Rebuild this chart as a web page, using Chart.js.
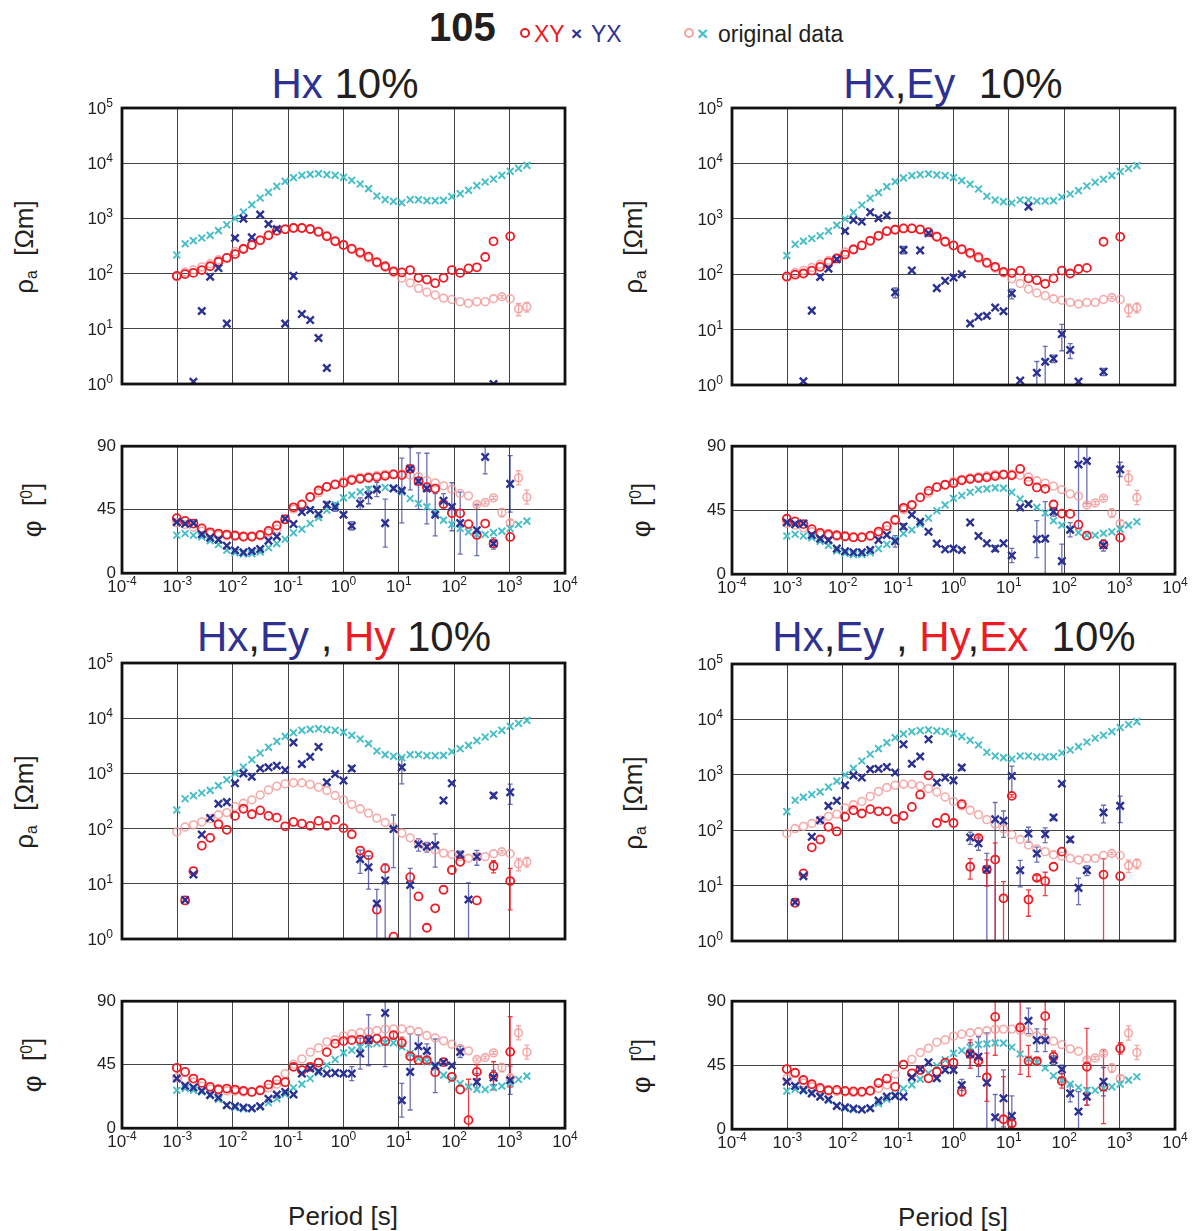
<!DOCTYPE html>
<html><head><meta charset="utf-8">
<script src="https://cdn.jsdelivr.net/npm/chart.js@4.4.0/dist/chart.umd.min.js"></script>
<style>
body{margin:0;background:#fff;width:1195px;height:1231px;position:relative;overflow:hidden;font-family:"Liberation Sans",Arial,sans-serif;color:#231f20}
.abs{position:absolute;white-space:nowrap;line-height:1}
.ttl{position:absolute;white-space:nowrap;line-height:1;font-size:42px;transform:translateX(-50%)}
.ylab{position:absolute;white-space:nowrap;line-height:1;font-size:26px;transform:translate(-50%,-50%) rotate(-90deg)}
.ylab sub{font-size:60%;vertical-align:-0.25em}
.ylab sup{font-size:60%;vertical-align:0.6em}
.b{color:#2e3192}.r{color:#ed1c24}
canvas{position:absolute}
</style></head><body>

<div class="abs" style="left:429px;top:7px;font-size:40px;font-weight:bold">105</div>
<div class="abs" style="left:520px;top:28px;width:6px;height:6px;border:2px solid #ed1c24;border-radius:50%"></div>
<div class="abs r" style="left:534px;top:23px;font-size:23px">XY</div>
<div class="abs b" style="left:571px;top:24px;font-size:19px;font-weight:bold">×</div>
<div class="abs b" style="left:591px;top:23px;font-size:23px">YX</div>
<div class="abs" style="left:684px;top:28px;width:6px;height:6px;border:2px solid #f4a3a3;border-radius:50%"></div>
<div class="abs" style="left:697px;top:24px;font-size:19px;font-weight:bold;color:#45bec8">×</div>
<div class="abs" style="left:718px;top:23px;font-size:23px">original data</div>

<div class="ttl" style="left:345px;top:63px"><span class="b">Hx</span> 10%</div>
<div class="ttl" style="left:953px;top:63px"><span class="b">Hx</span>,<span class="b">Ey</span>&nbsp; 10%</div>
<div class="ttl" style="left:344px;top:616px"><span class="b">Hx</span>,<span class="b">Ey</span> , <span class="r">Hy</span> 10%</div>
<div class="ttl" style="left:954px;top:616px"><span class="b">Hx</span>,<span class="b">Ey</span> , <span class="r">Hy</span>,<span class="r">Ex</span>&nbsp; 10%</div>

<div class="ylab" style="left:25px;top:247px">ρ<sub>a</sub>&nbsp; [Ωm]</div>
<div class="ylab" style="left:634px;top:247px">ρ<sub>a</sub>&nbsp; [Ωm]</div>
<div class="ylab" style="left:25px;top:802px">ρ<sub>a</sub>&nbsp; [Ωm]</div>
<div class="ylab" style="left:634px;top:803px">ρ<sub>a</sub>&nbsp; [Ωm]</div>
<div class="ylab" style="left:32px;top:510px">φ&nbsp; [<sup>0</sup>]</div>
<div class="ylab" style="left:641px;top:510px">φ&nbsp; [<sup>0</sup>]</div>
<div class="ylab" style="left:32px;top:1065px">φ&nbsp; [<sup>0</sup>]</div>
<div class="ylab" style="left:641px;top:1066px">φ&nbsp; [<sup>0</sup>]</div>

<div class="abs" style="left:343px;top:1203px;font-size:26px;transform:translateX(-50%)">Period [s]</div>
<div class="abs" style="left:953px;top:1204px;font-size:26px;transform:translateX(-50%)">Period [s]</div>

<canvas id="c_tl_r"></canvas><canvas id="c_tl_p"></canvas>
<canvas id="c_tr_r"></canvas><canvas id="c_tr_p"></canvas>
<canvas id="c_bl_r"></canvas><canvas id="c_bl_p"></canvas>
<canvas id="c_br_r"></canvas><canvas id="c_br_p"></canvas>

<script>
// ---------- DATA ----------
const periods = [0.000977, 0.00138, 0.00195, 0.00276, 0.00391, 0.00552, 0.00781, 0.0110, 0.0156, 0.0221, 0.0313, 0.0442, 0.0625, 0.0884, 0.125, 0.177, 0.25, 0.354, 0.5, 0.707, 1, 1.41, 2, 2.83, 4, 5.66, 8, 11.3, 16, 22.6, 32, 45.3, 64, 90.5, 128, 181, 256, 362, 512, 724, 1024, 1448, 2048];
const xTickValues = [1e-4, 1e-3, 1e-2, 1e-1, 1, 10, 100, 1000, 10000];
const rhoTickValues = [1, 10, 100, 1000, 10000, 100000];
const phiTickValues = [0, 45, 90];

// original data
const origXYRho = [87, 107, 117, 132, 151, 178, 195, 251, 288, 331, 407, 501, 589, 646, 676, 676, 631, 562, 490, 398, 331, 275, 229, 191, 155, 129, 105, 83, 68, 54, 46, 41, 36, 34, 31, 29, 31, 31, 35, 38, 35, 23, 25];
const origXYRhoErr = [0,0,0,0,0,0,0,0,0,0, 0,0,0,0,0,0,0,0,0,0, 0,0,0,0,0,0,0,0,0,0, 0,0,0,0,0,0,0,0,0,0.05, 0,0.25,0.2];
const origXYPhi = [35.7, 34.5, 32.6, 29.8, 27.9, 26.9, 26.5, 26.2, 25.7, 25.7, 26.5, 28.6, 31.2, 38.7, 45.4, 49.1, 53.9, 56.9, 61.2, 62.8, 65.4, 66.8, 67.8, 68.5, 69.2, 70.2, 70.4, 70.4, 69.4, 68.3, 65.7, 64.0, 61.9, 59.5, 56.5, 54.8, 48.7, 50.1, 53.4, 43.0, 35.7, 67.6, 53.9];
const origXYPhiErr = [0,0,0,0,0,0,0,0,0,0, 0,0,0,0,0,0,0,0,0,0, 0,0,0,0,0,0,0,0,0,0, 0,0,0,0,0,0,1,1,1,3, 2,5,5];
const origYXRho = [217, 348, 395, 442, 493, 600, 769, 1000, 1306, 1774, 2344, 2965, 3811, 4688, 5470, 6026, 6281, 6457, 6194, 6026, 5546, 4898, 4198, 3459, 2547, 2183, 2037, 1928, 2183, 2183, 2094, 2094, 2123, 2477, 2805, 3221, 3917, 4560, 5176, 6026, 7129, 8072, 9141];
const origYXPhi = [26.9, 28.1, 26.9, 25.7, 23.1, 20.3, 16.3, 14.6, 13.7, 13.9, 15.1, 18.0, 21.0, 24.1, 28.6, 31.2, 35.2, 39.4, 44.6, 48.7, 53.4, 55.3, 57.6, 59.5, 60.0, 60.7, 60.5, 57.6, 52.9, 49.4, 47.0, 43.0, 37.6, 34.5, 31.7, 29.3, 27.4, 27.4, 28.8, 29.8, 31.7, 34.5, 36.9];

// panel "Hx 10%"
const hxXYRho = [91, 98, 103, 116, 136, 164, 192, 226, 279, 330, 401, 493, 600, 634, 670, 670, 643, 575, 473, 385, 330, 283, 243, 203, 162, 136, 110, 105, 116, 84, 78, 67, 84, 116, 103, 124, 130, 200, 385, null, 473, null, null];
const hxXYPhi = [39.0, 37.1, 35.2, 31.7, 29.0, 28.1, 27.4, 26.7, 26.0, 26.0, 27.1, 30.0, 33.8, 38.1, 46.7, 48.6, 54.0, 58.6, 61.2, 62.9, 64.0, 66.0, 66.9, 67.6, 68.1, 69.0, 70.0, 69.5, 74.0, 65.2, 61.0, 60.0, 49.0, 42.6, 42.4, 34.8, 27.1, 35.2, 21.0, null, 25.7, null, null];
const hxYXRho = [null, null, 1.1, 21, 88, 126, 12.4, 442, 990, 454, 1170, 792, 643, 12.4, 91, 18.5, 14.4, 6.8, 1.95, null, null, null, null, null, null, null, null, null, null, null, null, null, null, null, null, null, null, null, 1.0, null, null, null, null];
const hxYXPhi = [36.2, 35.0, 35.5, 27.6, 25.2, 23.8, 19.5, 16.2, 14.8, 15.7, 17.1, 23.1, 26.0, 38.6, 34.8, 43.3, 44.8, 41.9, 48.6, 46.9, 41.4, 33.6, 49.3, 55.2, 59.3, 35.5, 60.0, 58.6, 74.0, 65.2, 60.0, 41.4, 51.4, 47.1, 35.5, null, 30.5, 82.4, 21.0, null, 63.3, null, null];
const hxYXPhiErr = [0,0,0,0,0,0,0,0,0,0, 0,0,0,0,0,0,0,0,2,3, 1,3,4,6,5,17,1,23,15,20, 25,15,5,17,22,0,18,12,4,0, 20,0,0];

// panel "Hx,Ey 10%"
const hxeyXYRho = [91, 98, 103, 116, 136, 164, 192, 226, 279, 330, 401, 493, 600, 634, 670, 670, 643, 575, 473, 385, 330, 283, 243, 203, 162, 136, 110, 105, 116, 84, 78, 67, 84, 116, 103, 124, 130, null, 385, null, 473, null, null];
const hxeyXYPhi = [39.0, 37.1, 35.2, 31.7, 29.0, 28.1, 27.4, 26.7, 26.0, 26.0, 27.1, 30.0, 33.8, 38.1, 46.7, 48.6, 54.0, 58.6, 61.2, 62.9, 64.0, 66.0, 66.9, 67.6, 68.1, 69.0, 70.0, 69.5, 74.0, 65.2, 61.0, 60.0, 49.0, 42.6, 42.4, 34.8, 27.1, null, 21.0, null, 25.7, null, null];
const hxeyYXRho = [null, null, 1.17, 22, 89, 126, 186, 603, 955, 891, 1318, 1023, 1148, 47, 275, 117, 269, 550, 56, 76, 87, 100, 12.9, 17, 17.8, 25, 21.4, 45, 1.2, 1660, 1.66, 2.63, 3.0, 8.3, 4.3, 1.15, null, null, 1.74, null, null, null, null];
const hxeyYXRhoErr = [0,0,0,0,0,0,0,0,0,0, 0,0,0,0.2,0.15,0,0,0,0,0, 0,0,0,0,0,0,0,0.2,0,0, 0.6,0.9,0.15,0.5,0.3,0,0,0,0.15,0, 0,0,0];
const hxeyYXPhi = [36.4, 35.2, 35.7, 27.6, 25.0, 23.9, 18.0, 16.1, 15.4, 15.4, 17.0, 24.1, 27.6, 23.1, 33.5, 41.8, 36.9, 29.8, 21.5, 17.5, 18.0, 17.0, 36.4, 26.9, 21.7, 18.0, 21.7, 13.2, 47.0, 49.4, 24.6, 25.0, 43.9, 9.2, 31.2, 77.2, 79.6, null, 20.3, null, 73.7, null, null];
const hxeyYXPhiErr = [0,0,0,0,0,0,0,0,0,0, 0,0,0,4,2,0,0,0,0,0, 1,1,0,0,0,2,0,5,0,0, 13,26,3,12,5,45,30,0,4,0, 5,0,0];

// panel "Hx,Ey , Hy 10%"
const hxeyhyXYRho = [null, 5.0, 17, 49, 68, 120, 95, 170, 229, 182, 214, 170, 158, 110, 132, 123, 112, 138, 112, 145, 102, 79, 40, 33, 3.4, 19, 1.1, null, 13.2, 5.9, 1.6, 3.6, 7.8, 17.8, 25, null, 5.0, null, 21, null, 11.2, null, null];
const hxeyhyXYRhoErr = [0,0,0,0,0,0,0,0,0,0, 0,0,0,0,0,0,0,0,0,0, 0,0,0,0,0,0,0,0,0,0, 0,0,0,0,0,0,0,0,0.25,0, 0.7,0,0];
const hxeyhyXYPhi = [42.8, 39.9, 35.2, 32.1, 29.3, 27.6, 28.1, 27.4, 26.5, 25.7, 26.9, 30.9, 34.0, 32.6, 43.5, 41.1, 43.5, 46.5, 53.9, 60.0, 61.7, 62.4, 62.8, 62.8, 63.5, 61.7, 65.9, 60.5, 51.0, 48.2, 48.2, 39.7, 46.8, 36.4, 27.4, 5.7, 39.9, null, 37.1, null, 54.1, null, null];
const hxeyhyXYPhiErr = [0,0,0,0,0,0,0,0,0,0, 0,0,0,0,0,0,0,0,0,0, 0,0,0,0,0,0,2,4,0,0, 0,0,0,0,0,29,5,0,10,0, 25,0,0];
const hxeyhyYXRho = [null, 5.1, 14.8, 78, 155, 282, 302, 661, 1000, 871, 1230, 1288, 1380, 1148, 3631, 1479, 1995, 3020, 692, 977, 741, 1230, 28, 20, 4.4, 11.5, 98, 1288, 9.5, 52, 47, 50, 324, 661, 34, 5.2, 31, null, 398, null, 457, null, null];
const hxeyhyYXRhoErr = [0,0,0,0,0,0,0,0,0,0, 0,0,0,0,0,0,0,0,0,0, 0,0.1,0.45,0.6,0.8,1.0,0.8,0.5,1.0,0.25, 0.2,0.6,0,0,0.15,1.0,0.3,0,0.1,0, 0.4,0,0];
const hxeyhyYXPhi = [35.2, 30.0, 28.8, 26.5, 23.6, 21.7, 16.3, 15.6, 14.6, 14.2, 15.6, 20.8, 23.9, 25.7, 23.9, 38.7, 42.3, 40.4, 38.7, 39.2, 38.7, 38.7, 52.9, 62.4, null, 81.7, null, 19.8, 39.9, 58.1, 54.8, 44.2, 46.8, 44.4, 54.1, null, 32.8, null, 35.9, null, 34.0, null, null];
const hxeyhyYXPhiErr = [0,0,0,0,0,0,0,0,0,0, 0,0,0,0,0,0,0,0,0,0, 0,5,11,18,0,38,0,12,27,8, 5,19,1,1,4,0,6,0,5,0, 10,0,0];

// panel "Hx,Ey , Hy,Ex 10%"
const allXYRho = [null, 4.9, 16.6, 49, 68, 115, 95, 174, 229, 200, 240, 219, 219, 158, 182, 263, 437, 977, 135, 166, 135, 295, 21.9, 72, 19.5, 29.5, 5.9, 417, null, 5.6, 13.8, 12, 21.9, 41, null, null, null, null, 15.8, null, 14.8, null, null];
const allXYRhoErr = [0,0,0,0,0,0,0,0,0,0, 0,0,0,0,0,0,0,0,0,0, 0,0,0.4,0.1,0.5,1.0,1.0,0.05,0,0.5, 0.1,0.45,0,0,0,0,0,0,0.95,0, 0,0,0];
const allXYPhi = [42.3, 39.7, 34.6, 31.6, 29.0, 27.4, 27.6, 26.9, 26.6, 26.4, 27.1, 32.5, 35.5, 29.9, 45.4, 39.3, 41.6, 35.8, 40.4, 46.8, 46.8, 26.4, 52.8, 48.2, 36.5, 79.0, 7.0, 4.0, 71.5, 47.9, 47.9, 79.5, 51.0, 33.9, null, null, 43.9, null, 29.9, null, 56.8, null, null];
const allXYPhiErr = [0,0,0,0,0,0,0,0,0,0, 0,0,0,0,0,0,0,0,0,0, 0,3,10,4,17,27,30,2,33,11, 2,13,4,5,0,0,27,0,26,0, 4,0,0];
const allYXRho = [null, 5.0, 14.8, 76, 151, 275, 339, 646, 977, 891, 1259, 1288, 1380, 1096, 3548, 1585, 2138, 4365, 724, 891, 794, 1349, 74, 58, 19.5, 158, 148, 955, 19, 87, 38, 85, 170, 692, 68, 9.1, 19, null, 209, null, 275, null, null];
const allYXRhoErr = [0,0,0,0,0,0,0,0,0,0, 0,0,0,0,0,0,0,0,0,0, 0,0.1,0.25,0.25,0.95,1.0,0.5,0.5,0.5,0.3, 0.3,0.3,0.1,0,0.1,0.5,0.2,0,0.35,0, 0.5,0,0];
const allYXPhi = [33.4, 30.4, 27.6, 25.2, 22.9, 21.0, 16.4, 15.4, 14.5, 13.8, 14.7, 20.1, 22.9, 23.4, 22.9, 36.5, 42.1, 47.0, 35.8, 41.6, 41.6, 31.1, 52.8, 51.0, 32.7, 8.4, 21.7, 9.4, null, 76.2, 62.6, 62.6, 48.6, 42.1, 25.2, 12.4, 22.9, null, 33.4, null, null, null, null];
const allYXPhiErr = [0,0,0,0,0,0,0,0,0,0, 0,0,0,0,0,0,0,0,0,0, 0,4,8,14,35,16,20,14,0,9, 8,8,3,3,6,14,6,0,10,0, 0,0,0];

// ---------- RENDERING ----------
const FONT = '"Liberation Sans", Arial, sans-serif';
Chart.defaults.font.family = FONT;
const COL = {
  red:'#ee1c25', blue:'#2b3192', pink:'rgba(243,150,150,0.8)', cyan:'#45bec8',
  redErr:'rgba(238,28,37,0.85)', blueErr:'rgba(43,49,146,0.7)', pinkErr:'rgba(243,150,150,0.85)'
};

function series(vals, errs){
  const out = [];
  periods.forEach((p, i) => { if (vals[i] != null) out.push({x:p, y:vals[i], e: errs ? errs[i] : 0}); });
  return out;
}

const errPlugin = {
  id:'errbars',
  beforeDatasetsDraw(chart){
    const {ctx, chartArea:a, scales:{x, y}} = chart;
    ctx.save();
    ctx.beginPath(); ctx.rect(a.left, a.top, a.right - a.left, a.bottom - a.top); ctx.clip();
    chart.data.datasets.forEach(ds => {
      if (!ds.errColor) return;
      ctx.strokeStyle = ds.errColor; ctx.lineWidth = 1.3;
      ds.data.forEach(d => {
        if (!d.e) return;
        let hi, lo;
        if (ds.rel) { hi = d.y * (1 + d.e); lo = d.e >= 0.99 ? y.min / 10 : d.y * (1 - d.e); }
        else { hi = d.y + d.e; lo = d.y - d.e; }
        const px = x.getPixelForValue(d.x), p1 = y.getPixelForValue(hi), p2 = y.getPixelForValue(lo);
        ctx.beginPath();
        ctx.moveTo(px, p1); ctx.lineTo(px, p2);
        ctx.moveTo(px - 2.5, p1); ctx.lineTo(px + 2.5, p1);
        ctx.moveTo(px - 2.5, p2); ctx.lineTo(px + 2.5, p2);
        ctx.stroke();
      });
    });
    ctx.restore();
  }
};
const boxPlugin = {
  id:'box',
  afterDraw(chart){
    const {ctx, chartArea:a} = chart;
    ctx.save(); ctx.strokeStyle = '#111'; ctx.lineWidth = 2.8;
    ctx.strokeRect(a.left, a.top, a.right - a.left, a.bottom - a.top);
    ctx.restore();
  }
};
// power-of-ten tick labels with real superscripts, placed through the chart's scales
const powLabelPlugin = {
  id:'powlabels',
  afterDraw(chart){
    const o = chart.options.plugins.powlabels;
    if (!o) return;
    const {ctx, chartArea:a} = chart;
    ctx.save(); ctx.fillStyle = '#231f20'; ctx.textBaseline = 'alphabetic'; ctx.textAlign = 'left';
    const draw = (v, px, py, align) => {
      const n = Math.round(Math.log10(v));
      const base = '10', ex = String(n);
      ctx.font = '17px ' + FONT; const wb = ctx.measureText(base).width;
      ctx.font = '12px ' + FONT; const we = ctx.measureText(ex).width;
      const total = wb + we;
      const x0 = align === 'right' ? px - total : px - total / 2;
      ctx.font = '17px ' + FONT; ctx.fillText(base, x0, py);
      ctx.font = '12px ' + FONT; ctx.fillText(ex, x0 + wb, py - 7);
    };
    if (o.y) rhoTickValues.forEach(v => draw(v, a.left - 9, chart.scales.y.getPixelForValue(v) + 6, 'right'));
    if (o.x) xTickValues.forEach(v => draw(v, chart.scales.x.getPixelForValue(v), a.bottom + 19, 'center'));
    ctx.restore();
  }
};

function ds(label, data, kind, extra){
  const base = {label, data, showLine:false, clip:0};
  if (kind === 'red') Object.assign(base, {pointStyle:'circle', pointRadius:4, pointBorderWidth:1.8, borderColor:COL.red, pointBorderColor:COL.red, pointBackgroundColor:'rgba(0,0,0,0)', order:1, errColor:COL.redErr});
  if (kind === 'blue') Object.assign(base, {pointStyle:'crossRot', pointRadius:5.2, pointBorderWidth:2.4, borderColor:COL.blue, pointBorderColor:COL.blue, order:0, errColor:COL.blueErr});
  if (kind === 'pink') Object.assign(base, {pointStyle:'circle', pointRadius:3.9, pointBorderWidth:1.6, borderColor:COL.pink, pointBorderColor:COL.pink, pointBackgroundColor:'rgba(0,0,0,0)', order:3, errColor:COL.pinkErr});
  if (kind === 'cyan') Object.assign(base, {pointStyle:'crossRot', pointRadius:4.8, pointBorderWidth:1.9, borderColor:COL.cyan, pointBorderColor:COL.cyan, order:2});
  return Object.assign(base, extra || {});
}

function makeChart(id, box, isRho, datasets){
  const cv = document.getElementById(id);
  const LEFT = 60, RIGHT = 25, TOP = 10, BOT = isRho ? 10 : 30;
  cv.width = box.R - box.L + LEFT + RIGHT;
  cv.height = box.B - box.T + TOP + BOT;
  const tickFont = {family:FONT, size:17};
  const yScale = isRho ? {
    type:'logarithmic', min:1, max:1e5,
    afterBuildTicks: s => { s.ticks = rhoTickValues.map(v => ({value:v})); },
    ticks:{display:false}
  } : {
    type:'linear', min:0, max:90,
    afterBuildTicks: s => { s.ticks = phiTickValues.map(v => ({value:v})); },
    ticks:{font:tickFont, color:'#231f20', padding:6, autoSkip:false}
  };
  Object.assign(yScale, {
    afterFit: s => { s.width = LEFT; },
    grid:{color:'#444', lineWidth:1, drawTicks:false},
    border:{display:false}
  });
  const chart = new Chart(cv, {
    type:'scatter',
    data:{datasets},
    options:{
      responsive:false, maintainAspectRatio:false, animation:false, devicePixelRatio:1,
      layout:{padding:{left:0, right:RIGHT, top:TOP, bottom:isRho ? BOT : 0}},
      plugins:{legend:{display:false}, tooltip:{enabled:false}, powlabels:{x:!isRho, y:isRho}},
      scales:{
        x:{
          type:'logarithmic', min:1e-4, max:1e4,
          afterBuildTicks: s => { s.ticks = xTickValues.map(v => ({value:v})); },
          afterFit: s => { s.height = isRho ? 0 : BOT; },
          grid:{color:'#444', lineWidth:1, drawTicks:false},
          border:{display:false},
          ticks:{display:false}
        },
        y: yScale
      }
    },
    plugins:[errPlugin, boxPlugin, powLabelPlugin]
  });
  // align the chart area exactly with the target box
  let a = chart.chartArea;
  const nw = cv.width + ((box.R - box.L) - (a.right - a.left));
  const nh = cv.height + ((box.B - box.T) - (a.bottom - a.top));
  if (nw !== cv.width || nh !== cv.height) chart.resize(nw, nh);
  a = chart.chartArea;
  cv.style.left = (box.L - a.left) + 'px';
  cv.style.top = (box.T - a.top) + 'px';
}

function panel(prefix, boxR, boxP, xyRho, xyRhoErr, yxRho, yxRhoErr, xyPhi, xyPhiErr, yxPhi, yxPhiErr){
  makeChart(prefix + '_r', boxR, true, [
    ds('YX', series(yxRho, yxRhoErr), 'blue', {rel:true}),
    ds('XY', series(xyRho, xyRhoErr), 'red', {rel:true}),
    ds('orig YX', series(origYXRho), 'cyan'),
    ds('orig XY', series(origXYRho, origXYRhoErr), 'pink', {rel:true})
  ]);
  makeChart(prefix + '_p', boxP, false, [
    ds('YX', series(yxPhi, yxPhiErr), 'blue'),
    ds('XY', series(xyPhi, xyPhiErr), 'red'),
    ds('orig YX', series(origYXPhi), 'cyan'),
    ds('orig XY', series(origXYPhi, origXYPhiErr), 'pink')
  ]);
}

panel('c_tl', {L:122,T:108,R:565,B:384}, {L:122,T:446,R:565,B:573},
  hxXYRho, null, hxYXRho, null, hxXYPhi, null, hxYXPhi, hxYXPhiErr);
panel('c_tr', {L:732,T:108,R:1175,B:385}, {L:732,T:446,R:1175,B:574},
  hxeyXYRho, null, hxeyYXRho, hxeyYXRhoErr, hxeyXYPhi, null, hxeyYXPhi, hxeyYXPhiErr);
panel('c_bl', {L:122,T:663,R:565,B:939}, {L:122,T:1001,R:565,B:1128},
  hxeyhyXYRho, hxeyhyXYRhoErr, hxeyhyYXRho, hxeyhyYXRhoErr, hxeyhyXYPhi, hxeyhyXYPhiErr, hxeyhyYXPhi, hxeyhyYXPhiErr);
panel('c_br', {L:732,T:664,R:1175,B:941}, {L:732,T:1001,R:1175,B:1129},
  allXYRho, allXYRhoErr, allYXRho, allYXRhoErr, allXYPhi, allXYPhiErr, allYXPhi, allYXPhiErr);
</script>
</body></html>
